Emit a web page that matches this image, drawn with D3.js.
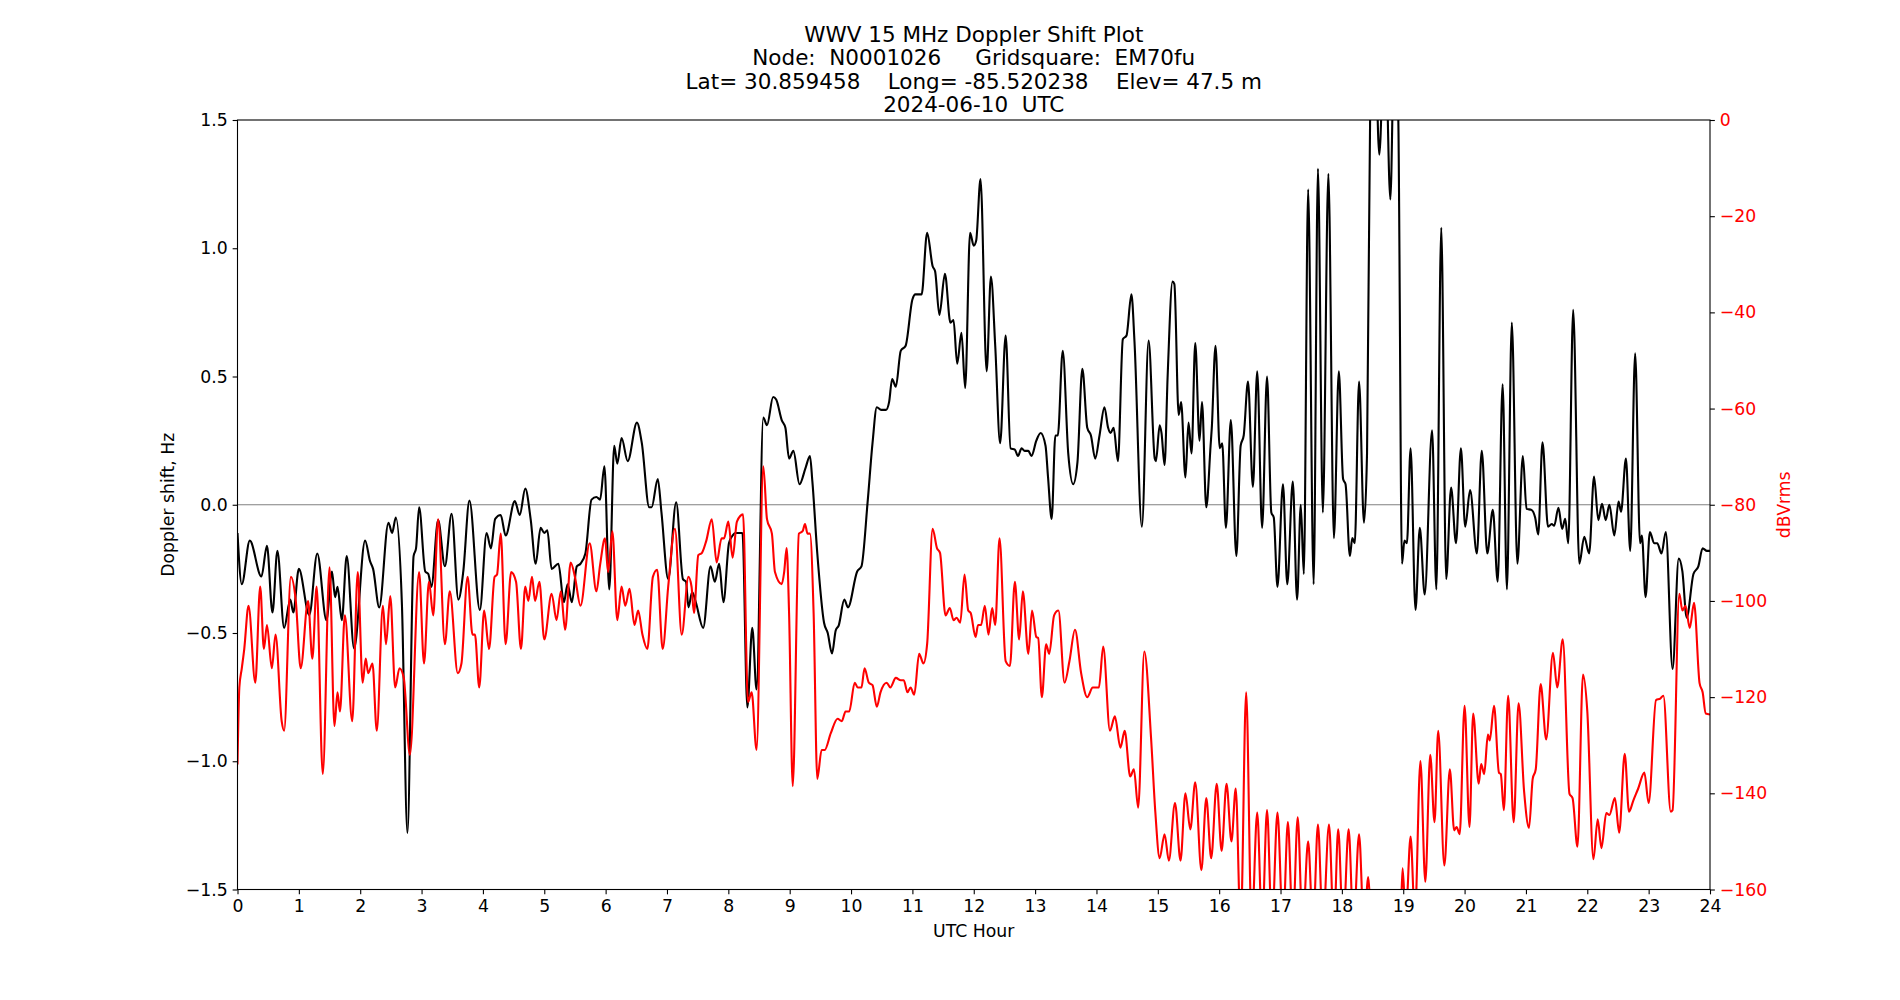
<!DOCTYPE html>
<html><head><meta charset="utf-8">
<script src="https://cdn.jsdelivr.net/npm/d3@7"></script>
<style>body{margin:0;background:#fff} text{font-family:"DejaVu Sans",sans-serif}</style>
</head><body><svg id="c" width="1900" height="1000"></svg>
<script>
const titleLines = ["WWV 15 MHz Doppler Shift Plot",
  "Node:  N0001026     Gridsquare:  EM70fu",
  "Lat= 30.859458    Long= -85.520238    Elev= 47.5 m",
  "2024-06-10  UTC"];
const hourTicks = d3.range(0, 25);
const dopplerTicks = [-1.5, -1.0, -0.5, 0.0, 0.5, 1.0, 1.5];
const dbTicks = [-160, -140, -120, -100, -80, -60, -40, -20, 0];

// Doppler shift (Hz) vs UTC hour
const dopplerPoints = [
[0.00,-0.11],[0.07,-0.31],[0.20,-0.14],[0.39,-0.28],[0.48,-0.16],[0.57,-0.42],[0.65,-0.18],[0.76,-0.48],[0.86,-0.37],[0.91,-0.42],[1.00,-0.25],[1.17,-0.43],[1.30,-0.19],[1.45,-0.45],[1.54,-0.26],[1.59,-0.36],[1.63,-0.32],[1.70,-0.45],[1.78,-0.20],[1.90,-0.56],[2.08,-0.14],[2.16,-0.22],[2.21,-0.25],[2.31,-0.40],[2.46,-0.07],[2.52,-0.11],[2.58,-0.05],[2.68,-0.39],[2.77,-1.28],[2.87,-0.20],[2.91,-0.17],[2.96,-0.01],
[3.06,-0.26],[3.11,-0.27],[3.16,-0.32],[3.27,-0.06],[3.38,-0.24],[3.49,-0.035],[3.60,-0.37],[3.68,-0.26],[3.78,0.016],[3.95,-0.41],[4.06,-0.11],[4.13,-0.17],[4.20,-0.055],[4.29,-0.04],[4.37,-0.12],[4.52,0.014],[4.60,-0.04],[4.69,0.063],[4.78,-0.06],[4.86,-0.23],[4.94,-0.09],[5.00,-0.11],[5.05,-0.10],[5.12,-0.25],[5.23,-0.23],[5.32,-0.38],[5.38,-0.31],[5.45,-0.38],[5.53,-0.24],[5.59,-0.23],[5.67,-0.19],[5.77,0.02],[5.85,0.03],[5.91,0.02],
[5.98,0.15],[6.06,-0.33],[6.14,0.23],[6.19,0.16],[6.26,0.26],[6.36,0.17],[6.51,0.32],[6.59,0.24],[6.71,-0.01],[6.75,-0.01],[6.85,0.10],[6.91,-0.03],[7.02,-0.29],[7.15,0.01],[7.26,-0.29],[7.31,-0.30],[7.35,-0.40],[7.41,-0.34],[7.47,-0.38],[7.59,-0.48],[7.71,-0.24],[7.78,-0.30],[7.85,-0.23],[7.92,-0.38],[8.01,-0.15],[8.07,-0.12],[8.11,-0.11],[8.19,-0.11],[8.23,-0.11],[8.31,-0.79],[8.39,-0.48],[8.46,-0.72],[8.57,0.34],[8.63,0.31],[8.73,0.42],[8.78,0.41],[8.87,0.33],
[8.93,0.30],[8.99,0.18],[9.06,0.21],[9.16,0.08],[9.26,0.145],[9.33,0.19],[9.37,0.09],[9.45,-0.19],[9.56,-0.46],[9.62,-0.50],[9.69,-0.58],[9.75,-0.49],[9.80,-0.47],[9.89,-0.37],[9.95,-0.40],[10.10,-0.26],[10.17,-0.24],[10.27,0.01],[10.35,0.24],[10.42,0.38],[10.49,0.37],[10.57,0.37],[10.62,0.40],[10.67,0.49],[10.73,0.46],[10.81,0.60],[10.89,0.62],[11.00,0.80],[11.05,0.82],[11.15,0.82],[11.24,1.06],[11.33,0.93],[11.37,0.91],[11.44,0.74],[11.53,0.90],[11.62,0.71],[11.67,0.72],[11.73,0.55],[11.80,0.67],[11.86,0.455],[11.94,1.06],[12.00,1.01],[12.04,1.03],[12.11,1.27],
[12.21,0.52],[12.28,0.89],[12.35,0.62],[12.43,0.24],[12.52,0.66],[12.60,0.22],[12.67,0.215],[12.72,0.19],[12.78,0.22],[12.83,0.21],[12.89,0.21],[12.94,0.19],[13.02,0.25],[13.09,0.28],[13.17,0.23],[13.21,0.11],[13.27,-0.055],[13.33,0.27],[13.37,0.27],[13.45,0.60],[13.54,0.20],[13.62,0.08],[13.69,0.165],[13.77,0.53],[13.85,0.30],[13.91,0.27],[13.98,0.18],[14.05,0.27],[14.13,0.38],[14.19,0.30],[14.23,0.28],[14.28,0.30],[14.35,0.17],[14.43,0.645],[14.49,0.66],[14.57,0.82],[14.62,0.635],[14.74,-0.086],[14.85,0.64],
[14.95,0.18],[14.97,0.17],[15.03,0.31],[15.06,0.28],[15.11,0.155],[15.16,0.50],[15.24,0.87],[15.27,0.86],[15.34,0.35],[15.38,0.40],[15.45,0.106],[15.50,0.32],[15.55,0.20],[15.61,0.63],[15.68,0.25],[15.72,0.40],[15.79,-0.01],[15.86,0.23],[15.88,0.30],[15.94,0.62],[16.01,0.22],[16.05,0.24],[16.11,-0.09],[16.19,0.33],[16.28,-0.20],[16.35,0.23],[16.40,0.27],[16.47,0.48],[16.55,0.07],[16.62,0.52],[16.70,-0.09],[16.78,0.50],[16.85,-0.03],[16.89,-0.05],[16.95,-0.32],[17.04,0.08],[17.11,-0.31],[17.20,0.09],[17.27,-0.37],[17.33,0.0],[17.38,-0.27],[17.45,1.23],[17.54,-0.31],[17.61,1.31],[17.69,-0.03],[17.78,1.29],[17.87,-0.13],[17.95,0.52],[18.02,0.10],[18.06,0.08],[18.13,-0.20],
[18.17,-0.13],[18.21,-0.15],[18.28,0.48],[18.36,-0.07],[18.41,0.2],[18.46,1.5],[18.53,1.9],[18.61,1.365],[18.70,1.9],[18.79,1.19],[18.86,1.9],[18.92,1.5],[18.98,-0.23],[19.02,-0.14],[19.06,-0.15],[19.12,0.22],[19.20,-0.41],[19.27,-0.09],[19.35,-0.35],[19.47,0.29],[19.54,-0.33],[19.62,1.08],[19.70,-0.29],[19.78,0.067],[19.86,-0.15],[19.94,0.22],[20.01,-0.086],[20.09,0.057],[20.20,-0.19],[20.28,0.21],[20.37,-0.19],[20.46,-0.02],[20.54,-0.30],[20.62,0.47],[20.69,-0.33],[20.77,0.71],[20.86,-0.23],
[20.95,0.19],[21.01,-0.016],[21.09,-0.02],[21.15,-0.05],[21.20,-0.116],[21.27,0.243],[21.36,-0.086],[21.42,-0.075],[21.46,-0.082],[21.53,-0.012],[21.59,-0.094],[21.64,-0.055],[21.69,-0.15],[21.77,0.76],[21.87,-0.23],[21.95,-0.125],[22.03,-0.19],[22.11,0.11],[22.18,-0.06],[22.24,0.004],[22.30,-0.06],[22.36,0.0],[22.44,-0.12],[22.51,0.012],[22.55,-0.027],[22.63,0.18],[22.70,-0.18],[22.78,0.59],[22.86,-0.15],[22.89,-0.12],[22.95,-0.36],[23.02,-0.106],[23.09,-0.15],[23.14,-0.15],[23.21,-0.19],[23.28,-0.106],[23.39,-0.64],[23.49,-0.21],[23.55,-0.26],[23.62,-0.44],[23.73,-0.27],[23.81,-0.24],[23.88,-0.17],[23.95,-0.18],[24.0,-0.18]
];

// Received power (dBVrms) vs UTC hour
const powerPoints = [
[0.00,-134],[0.03,-118],[0.07,-114],[0.11,-110],[0.18,-101],[0.29,-117],[0.37,-97],[0.43,-110],[0.48,-105],[0.56,-114],[0.62,-107],[0.72,-125],[0.76,-127],[0.87,-95],[0.95,-100],[1.03,-114],[1.15,-100],[1.22,-112],[1.29,-97],[1.39,-136],[1.50,-93],[1.58,-126],[1.63,-119],[1.67,-123],[1.75,-103],[1.87,-125],[1.96,-94],[2.04,-117],[2.09,-112],[2.13,-115],[2.20,-113],[2.27,-127],[2.37,-101],[2.42,-109],[2.49,-99],[2.57,-118],[2.64,-114],[2.71,-116],[2.81,-132],[2.96,-94],
[3.04,-113],[3.12,-96],[3.19,-103],[3.27,-83],[3.38,-109],[3.46,-98],[3.59,-115],[3.65,-113],[3.75,-95],[3.83,-107],[3.87,-107],[3.94,-118],[4.02,-102],[4.10,-110],[4.19,-95],[4.23,-94.5],[4.29,-86],[4.37,-109],[4.46,-94],[4.54,-96],[4.62,-110],[4.69,-97],[4.74,-100],[4.80,-95],[4.85,-100],[4.92,-96],[5.00,-108],[5.12,-98.5],[5.20,-104],[5.27,-98],[5.34,-106],[5.43,-92],[5.50,-95],[5.59,-101],[5.74,-88],[5.85,-98],
[5.91,-92.5],[5.99,-87],[6.04,-94],[6.11,-85.5],[6.19,-104],[6.26,-97],[6.32,-101],[6.39,-97.5],[6.47,-105],[6.53,-102],[6.60,-107],[6.68,-110],[6.77,-95],[6.84,-93.5],[6.93,-110],[7.02,-97],[7.13,-85],[7.24,-107],[7.35,-95],[7.40,-97],[7.44,-102.5],[7.51,-90.5],[7.57,-90],[7.64,-87.5],[7.73,-83],[7.81,-92],[7.89,-87],[7.93,-87],[8.00,-83.5],[8.07,-91],[8.14,-83.5],[8.24,-82],[8.32,-121],[8.38,-119],[8.46,-131],[8.57,-72],[8.63,-83],[8.71,-86],[8.76,-94],[8.87,-96.5],
[8.91,-94],[8.95,-89],[8.99,-102.5],[9.05,-138.5],[9.15,-86],[9.21,-85.5],[9.25,-84],[9.29,-86],[9.33,-86],[9.39,-102.5],[9.45,-137],[9.52,-131],[9.57,-131],[9.67,-127.5],[9.78,-124.5],[9.85,-125],[9.91,-123],[9.97,-123],[10.06,-117],[10.11,-118],[10.17,-118],[10.22,-114],[10.29,-117],[10.35,-117.5],[10.42,-122],[10.48,-119],[10.58,-117],[10.64,-118],[10.73,-116],[10.81,-116.5],[10.86,-116.5],[10.92,-119],[10.97,-118],[11.03,-119.5],[11.11,-111],[11.18,-113],[11.24,-109],[11.33,-85],[11.40,-89],[11.45,-90],[11.54,-103],[11.61,-101.5],[11.67,-104],[11.72,-103.5],[11.78,-104.5],[11.85,-94.5],[11.91,-102],[11.95,-102.5],
[12.03,-107.5],[12.07,-105],[12.12,-105],[12.18,-101],[12.24,-107],[12.30,-101.5],[12.35,-105],[12.42,-87],[12.52,-112.5],[12.59,-113.5],[12.67,-96],[12.74,-108],[12.80,-98],[12.89,-111],[12.95,-102],[13.02,-107.5],[13.05,-107.7],[13.11,-120],[13.18,-109],[13.23,-111],[13.31,-103],[13.38,-102],[13.48,-117],[13.56,-112.5],[13.65,-106],[13.75,-115],[13.85,-120],[13.94,-118],[14.04,-118],[14.11,-109.5],[14.22,-127],[14.30,-124],[14.39,-130.5],[14.46,-127],[14.55,-136.5],[14.61,-135],[14.68,-143],[14.78,-110.5],[14.89,-128.5],
[14.96,-144],[15.03,-153.5],[15.11,-148.5],[15.18,-154],[15.28,-142],[15.37,-154],[15.45,-140],[15.53,-147.5],[15.61,-137.7],[15.71,-156],[15.79,-141],[15.87,-153.5],[15.96,-138],[16.04,-152],[16.12,-138],[16.20,-150],[16.27,-139],[16.35,-168],[16.44,-119],[16.53,-168],[16.62,-144],[16.70,-168],[16.78,-143.5],[16.86,-168],[16.95,-144],[17.04,-168],[17.12,-146],[17.20,-168],[17.28,-145],[17.36,-168],[17.45,-150],[17.53,-168],[17.61,-146.5],[17.69,-168],[17.79,-146.5],[17.87,-168],[17.94,-147.5],[18.02,-168],
[18.11,-147.5],[18.19,-168],[18.28,-148.5],[18.36,-168],[18.43,-157.4],[18.47,-165],[18.62,-175],[18.80,-175],[18.96,-165],[18.99,-155.6],[19.04,-166],[19.12,-149],[19.19,-166],[19.28,-133.3],[19.36,-158.4],[19.44,-132],[19.51,-146],[19.57,-127],[19.67,-155],[19.76,-135],[19.83,-147.7],[19.87,-147],[19.92,-148.5],[20.00,-121.8],[20.08,-147],[20.14,-123.4],[20.23,-138],[20.27,-133.9],[20.32,-136],[20.38,-127.8],[20.41,-129],[20.48,-121.8],[20.56,-135.7],[20.59,-136],[20.64,-143.5],[20.71,-119.7],[20.80,-146],[20.88,-121.3],[20.97,-139.6],[21.05,-147.2],
[21.11,-137],[21.16,-135],[21.24,-117.3],[21.33,-128.8],[21.44,-110.8],[21.51,-118],[21.60,-108],[21.71,-140.1],[21.76,-141],[21.84,-151.1],[21.93,-115.3],[22.00,-122.9],[22.10,-153.7],[22.17,-145.4],[22.23,-151.4],[22.31,-144.1],[22.36,-144.5],[22.45,-141],[22.52,-148.2],[22.61,-131.8],[22.68,-143.8],[22.75,-141.5],[22.83,-139],[22.93,-135.7],[23.00,-142],[23.12,-120.6],[23.19,-120.3],[23.24,-119.7],[23.36,-143.8],[23.39,-143.5],[23.50,-98.5],[23.55,-102],[23.60,-101],[23.67,-105.6],[23.74,-100.4],[23.83,-117.1],[23.88,-119],[23.93,-123.4],[24.0,-123.6]
];

const L = 237.5, R = 1710, T = 120, B = 889.5;
const svg = d3.select("#c");
const x = d3.scaleLinear().domain([0, 24]).range([L, R]);
const yD = d3.scaleLinear().domain([-1.5, 1.5]).range([B, T]);
const yP = d3.scaleLinear().domain([-160, 0]).range([B, T]);

svg.append("defs").append("clipPath").attr("id", "clip")
  .append("rect").attr("x", L).attr("y", T).attr("width", R - L).attr("height", B - T);

const plot = svg.append("g").attr("clip-path", "url(#clip)");
plot.append("line").attr("x1", L).attr("x2", R).attr("y1", yD(0)).attr("y2", yD(0))
  .attr("stroke", "#808080").attr("stroke-width", 1.1);

const lineD = d3.line().x(d => x(d[0])).y(d => yD(d[1])).curve(d3.curveMonotoneX);
const lineP = d3.line().x(d => x(d[0])).y(d => yP(d[1])).curve(d3.curveMonotoneX);
plot.append("path").datum(dopplerPoints).attr("d", lineD)
  .attr("fill", "none").attr("stroke", "#000").attr("stroke-width", 2.1).attr("stroke-linejoin", "round");
plot.append("path").datum(powerPoints).attr("d", lineP)
  .attr("fill", "none").attr("stroke", "#ff0000").attr("stroke-width", 2.1).attr("stroke-linejoin", "round");

const fs = 17.3;
function styleAxis(g, color) {
  g.select(".domain").remove();
  g.selectAll(".tick line").attr("stroke", "#000").attr("stroke-width", 1.1);
  g.selectAll(".tick text").attr("fill", color).style("font-size", fs + "px").attr("font-family", null);
  g.attr("font-family", null).attr("font-size", null);
}
const gx = svg.append("g").attr("transform", `translate(0,${B})`)
  .call(d3.axisBottom(x).tickValues(hourTicks).tickFormat(d3.format("d")).tickSize(4.86).tickPadding(4.86));
styleAxis(gx, "#000");
const gl = svg.append("g").attr("transform", `translate(${L},0)`)
  .call(d3.axisLeft(yD).tickValues(dopplerTicks).tickFormat(d3.format(".1f")).tickSize(4.86).tickPadding(4.86));
styleAxis(gl, "#000");
const gr = svg.append("g").attr("transform", `translate(${R},0)`)
  .call(d3.axisRight(yP).tickValues(dbTicks).tickFormat(d3.format("d")).tickSize(4.86).tickPadding(4.86));
styleAxis(gr, "#ff0000");

svg.append("rect").attr("x", L).attr("y", T).attr("width", R - L).attr("height", B - T)
  .attr("fill", "none").attr("stroke", "#000").attr("stroke-width", 1.1);

svg.append("text").attr("x", (L + R) / 2).attr("y", 937).attr("text-anchor", "middle")
  .style("font-size", fs + "px").text("UTC Hour");
svg.append("text").attr("transform", `translate(173.5,${(T + B) / 2}) rotate(-90)`).attr("text-anchor", "middle")
  .style("font-size", fs + "px").text("Doppler shift, Hz");
svg.append("text").attr("transform", `translate(1790,${(T + B) / 2}) rotate(-90)`).attr("text-anchor", "middle")
  .attr("fill", "#ff0000").style("font-size", fs + "px").text("dBVrms");

const tg = svg.append("g");
titleLines.forEach((t, i) => {
  tg.append("text").attr("x", (L + R) / 2).attr("y", 112 - (titleLines.length - 1 - i) * 23.5)
    .attr("text-anchor", "middle").style("font-size", "21.5px").style("white-space", "pre").text(t);
});
</script></body></html>
